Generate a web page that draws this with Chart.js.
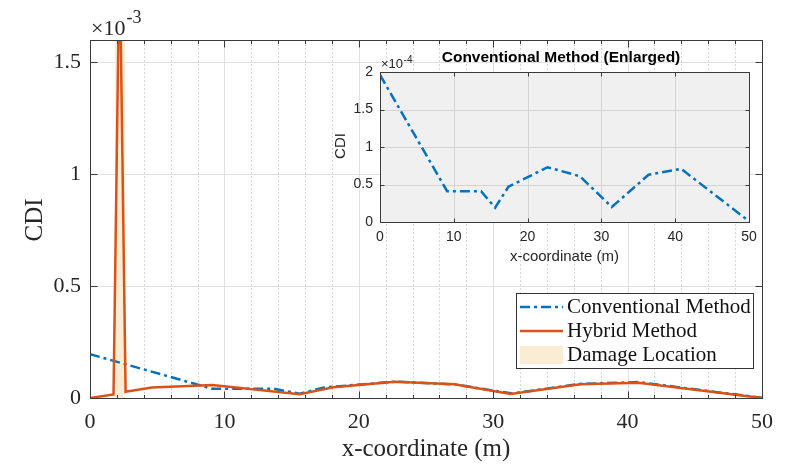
<!DOCTYPE html>
<html>
<head>
<meta charset="utf-8">
<script src="https://cdn.jsdelivr.net/npm/chart.js@4.4.1/dist/chart.umd.min.js"></script>
<style>
  html, body { margin: 0; padding: 0; background: #fff; }
  #wrap { position: relative; width: 792px; height: 465px; }
  #wrap canvas { position: absolute; left: 0; top: 0; }
</style>
</head>
<body>
<div id="wrap">
  <canvas id="mainChart" width="792" height="465"></canvas>
  <canvas id="insetChart" width="792" height="465"></canvas>
</div>
<script>
// ---- data ----
const convX = [0, 9.1, 13.7, 15.6, 17.4, 22.7, 27.1, 31.4, 36.4, 40.8, 50];
const convY = [1.96e-4, 0.41e-4, 0.41e-4, 0.19e-4, 0.47e-4, 0.73e-4, 0.61e-4, 0.2e-4, 0.63e-4, 0.71e-4, 0.01e-4];

const hybX = [0, 1.75, 2.2, 2.65, 4.6, 9.1, 15.6, 18.1, 22.7, 27.1, 31.3, 36.5, 40.8, 50];
const hybY = [0, 0.016e-3, 2.0e-3, 0.028e-3, 0.047e-3, 0.058e-3, 0.017e-3, 0.048e-3, 0.073e-3, 0.061e-3, 0.018e-3, 0.061e-3, 0.068e-3, 0];

const damageX = [1.85, 2.6];

// main axes ticks
const mainXTicks = [0, 10, 20, 30, 40, 50];
const mainXMinor = [2, 4, 6, 8, 12, 14, 16, 18, 22, 24, 26, 28, 32, 34, 36, 38, 42, 44, 46, 48];
const mainYTicks = [0, 0.5e-3, 1e-3, 1.5e-3];
const mainYLabels = ['0', '0.5', '1', '1.5'];
const mainYMax = 1.6e-3;

// inset axes ticks
const insetXTicks = [0, 10, 20, 30, 40, 50];
const insetYTicks = [0, 0.5e-4, 1e-4, 1.5e-4, 2e-4];
const insetYLabels = ['0', '0.5', '1', '1.5', '2'];
const insetYMax = 2e-4;

const BLUE = '#0072BD';
const ORANGE = '#D95319';
const BAND = '#FBEDD3';
const AXIS = '#3a3a3a';
const DASHDOT = [10, 4, 3, 4];
const SERIF = '"Liberation Serif", "Times New Roman", serif';
const SANS = '"Liberation Sans", Arial, sans-serif';

const pts = (xs, ys) => xs.map((x, i) => ({ x: x, y: ys[i] }));

function seg(ctx, x1, y1, x2, y2) {
    ctx.beginPath();
    ctx.moveTo(x1, y1);
    ctx.lineTo(x2, y2);
    ctx.stroke();
}

// grid, box and inward ticks like MATLAB
const mainAxesPlugin = {
    id: 'mainAxes',
    beforeDatasetsDraw(chart) {
        const { ctx, chartArea: a, scales: { x, y } } = chart;
        ctx.save();
        ctx.lineWidth = 1;
        // minor grid (dotted)
        ctx.strokeStyle = '#d6d6d6';
        ctx.setLineDash([2, 2]);
        mainXMinor.forEach(v => {
            const px = Math.round(x.getPixelForValue(v)) + 0.5;
            seg(ctx, px, a.top, px, a.bottom);
        });
        ctx.setLineDash([]);
        // major grid
        ctx.strokeStyle = '#e0e0e0';
        mainXTicks.forEach(v => {
            const px = Math.round(x.getPixelForValue(v)) + 0.5;
            seg(ctx, px, a.top, px, a.bottom);
        });
        mainYTicks.forEach(v => {
            const py = Math.round(y.getPixelForValue(v)) + 0.5;
            seg(ctx, a.left, py, a.right, py);
        });
        ctx.restore();
    },
    afterDatasetsDraw(chart) {
        const { ctx, chartArea: a, scales: { x, y } } = chart;
        const L = Math.round(a.left) + 0.5, R = Math.round(a.right) + 0.5;
        const T = Math.round(a.top) + 0.5, B = Math.round(a.bottom) + 0.5;
        ctx.save();
        ctx.strokeStyle = AXIS;
        ctx.lineWidth = 1;
        ctx.strokeRect(L, T, R - L, B - T);
        mainXTicks.forEach(v => {
            const px = Math.round(x.getPixelForValue(v)) + 0.5;
            seg(ctx, px, B, px, B - 7);
            seg(ctx, px, T, px, T + 7);
        });
        mainXMinor.forEach(v => {
            const px = Math.round(x.getPixelForValue(v)) + 0.5;
            seg(ctx, px, B, px, B - 3.5);
            seg(ctx, px, T, px, T + 3.5);
        });
        mainYTicks.forEach(v => {
            const py = Math.round(y.getPixelForValue(v)) + 0.5;
            seg(ctx, L, py, L + 7, py);
            seg(ctx, R, py, R - 7, py);
        });

        // exponent label
        ctx.fillStyle = '#262626';
        ctx.textBaseline = 'alphabetic';
        ctx.textAlign = 'left';
        ctx.font = '22px ' + SERIF;
        ctx.fillText('\u00d710', 91, 35);
        const w = ctx.measureText('\u00d710').width;
        ctx.font = '18px ' + SERIF;
        ctx.fillText('-3', 91 + w + 1, 23);

        // axis titles
        ctx.font = '25px ' + SERIF;
        ctx.textAlign = 'center';
        ctx.fillText('x-coordinate (m)', (a.left + a.right) / 2, 456);
        ctx.textBaseline = 'middle';
        ctx.save();
        ctx.translate(35, 220);
        ctx.rotate(-Math.PI / 2);
        ctx.fillText('CDI', 0, 0);
        ctx.restore();

        // legend
        const lx = 516.5, ly = 293.5, lw = 237, lh = 75;
        ctx.fillStyle = '#fff';
        ctx.fillRect(lx, ly, lw, lh);
        ctx.strokeStyle = '#333';
        ctx.strokeRect(lx, ly, lw, lh);
        const rows = [307, 331, 355];
        ctx.lineWidth = 2.5;
        ctx.strokeStyle = BLUE;
        ctx.setLineDash(DASHDOT);
        seg(ctx, 520, rows[0], 563, rows[0]);
        ctx.setLineDash([]);
        ctx.strokeStyle = ORANGE;
        seg(ctx, 520, rows[1], 563, rows[1]);
        ctx.fillStyle = BAND;
        ctx.fillRect(520, rows[2] - 9, 43, 18);
        ctx.fillStyle = '#111';
        ctx.font = '21px ' + SERIF;
        ctx.textAlign = 'left';
        ctx.fillText('Conventional Method', 567, rows[0]);
        ctx.fillText('Hybrid Method', 567, rows[1]);
        ctx.fillText('Damage Location', 567, rows[2]);
        ctx.restore();
    }
};

new Chart(document.getElementById('mainChart'), {
    type: 'line',
    data: {
        datasets: [
            {
                label: 'Hybrid Method',
                data: pts(hybX, hybY),
                borderColor: ORANGE,
                borderWidth: 2.5,
                pointRadius: 0,
                fill: false,
                tension: 0
            },
            {
                label: 'Conventional Method',
                data: pts(convX, convY),
                borderColor: BLUE,
                borderWidth: 2.5,
                borderDash: DASHDOT,
                pointRadius: 0,
                fill: false,
                tension: 0
            },
            {
                label: 'Damage Location',
                data: damageX.map(v => ({ x: v, y: mainYMax })),
                borderColor: 'rgba(0,0,0,0)',
                borderWidth: 0,
                backgroundColor: BAND,
                fill: 'origin',
                pointRadius: 0
            }
        ]
    },
    options: {
        responsive: false,
        animation: false,
        events: [],
        layout: { padding: { left: 0, right: 30, top: 40, bottom: 0 } },
        plugins: { legend: { display: false }, tooltip: { enabled: false } },
        scales: {
            x: {
                type: 'linear',
                min: 0,
                max: 50,
                afterFit: s => { s.height = 67; },
                afterBuildTicks: s => { s.ticks = mainXTicks.map(v => ({ value: v })); },
                grid: { display: false, drawTicks: false },
                border: { display: false },
                ticks: {
                    color: '#262626',
                    font: { family: SERIF, size: 22 },
                    padding: 11.5,
                    maxRotation: 0,
                    callback: v => String(v)
                }
            },
            y: {
                type: 'linear',
                min: 0,
                max: mainYMax,
                afterFit: s => { s.width = 90; },
                afterBuildTicks: s => { s.ticks = mainYTicks.map(v => ({ value: v })); },
                grid: { display: false, drawTicks: false },
                border: { display: false },
                ticks: {
                    color: '#262626',
                    font: { family: SERIF, size: 22 },
                    padding: 9,
                    callback: (v, i) => mainYLabels[i]
                }
            }
        }
    },
    plugins: [mainAxesPlugin]
});

// ---- inset ----
const insetAxesPlugin = {
    id: 'insetAxes',
    beforeDatasetsDraw(chart) {
        const { ctx, chartArea: a, scales: { x, y } } = chart;
        ctx.save();
        ctx.fillStyle = '#f0f0f0';
        ctx.fillRect(a.left, a.top, a.right - a.left, a.bottom - a.top);
        ctx.strokeStyle = '#d4d4d4';
        ctx.lineWidth = 1;
        insetXTicks.forEach(v => {
            const px = Math.round(x.getPixelForValue(v)) + 0.5;
            seg(ctx, px, a.top, px, a.bottom);
        });
        insetYTicks.forEach(v => {
            const py = Math.round(y.getPixelForValue(v)) + 0.5;
            seg(ctx, a.left, py, a.right, py);
        });
        ctx.restore();
    },
    afterDatasetsDraw(chart) {
        const { ctx, chartArea: a, scales: { x, y } } = chart;
        const L = Math.round(a.left) + 0.5, R = Math.round(a.right) + 0.5;
        const T = Math.round(a.top) + 0.5, B = Math.round(a.bottom) + 0.5;
        ctx.save();
        ctx.strokeStyle = AXIS;
        ctx.lineWidth = 1;
        ctx.strokeRect(L, T, R - L, B - T);
        insetXTicks.forEach(v => {
            const px = Math.round(x.getPixelForValue(v)) + 0.5;
            seg(ctx, px, B, px, B - 4);
            seg(ctx, px, T, px, T + 4);
        });
        insetYTicks.forEach(v => {
            const py = Math.round(y.getPixelForValue(v)) + 0.5;
            seg(ctx, L, py, L + 4, py);
            seg(ctx, R, py, R - 4, py);
        });

        ctx.fillStyle = '#262626';
        ctx.textAlign = 'left';
        ctx.textBaseline = 'alphabetic';
        ctx.font = '13px ' + SANS;
        ctx.fillText('\u00d710', 381, 68);
        const w = ctx.measureText('\u00d710').width;
        ctx.font = '10px ' + SANS;
        ctx.fillText('-4', 381 + w + 0.5, 63);

        ctx.fillStyle = '#000';
        ctx.font = 'bold 15.5px ' + SANS;
        ctx.textAlign = 'center';
        ctx.textBaseline = 'middle';
        ctx.fillText('Conventional Method (Enlarged)', 561, 58);

        ctx.fillStyle = '#262626';
        ctx.font = '15px ' + SANS;
        ctx.fillText('x-coordinate (m)', (a.left + a.right) / 2, 257);
        ctx.save();
        ctx.translate(341, 146);
        ctx.rotate(-Math.PI / 2);
        ctx.fillText('CDI', 0, 0);
        ctx.restore();
        ctx.restore();
    }
};

new Chart(document.getElementById('insetChart'), {
    type: 'line',
    data: {
        datasets: [{
            label: 'Conventional Method',
            data: pts(convX, convY),
            borderColor: BLUE,
            borderWidth: 2.5,
            borderDash: DASHDOT,
            pointRadius: 0,
            fill: false,
            tension: 0
        }]
    },
    options: {
        responsive: false,
        animation: false,
        events: [],
        layout: { padding: { left: 330, right: 43, top: 72, bottom: 200 } },
        plugins: { legend: { display: false }, tooltip: { enabled: false } },
        scales: {
            x: {
                type: 'linear',
                min: 0,
                max: 50,
                afterFit: s => { s.height = 43; },
                afterBuildTicks: s => { s.ticks = insetXTicks.map(v => ({ value: v })); },
                grid: { display: false, drawTicks: false },
                border: { display: false },
                ticks: {
                    color: '#262626',
                    font: { family: SANS, size: 14 },
                    padding: 7,
                    maxRotation: 0,
                    callback: v => String(v)
                }
            },
            y: {
                type: 'linear',
                min: 0,
                max: insetYMax,
                afterFit: s => { s.width = 50; },
                afterBuildTicks: s => { s.ticks = insetYTicks.map(v => ({ value: v })); },
                grid: { display: false, drawTicks: false },
                border: { display: false },
                ticks: {
                    color: '#262626',
                    font: { family: SANS, size: 14 },
                    padding: 7,
                    callback: (v, i) => insetYLabels[i]
                }
            }
        }
    },
    plugins: [insetAxesPlugin]
});
</script>
</body>
</html>
